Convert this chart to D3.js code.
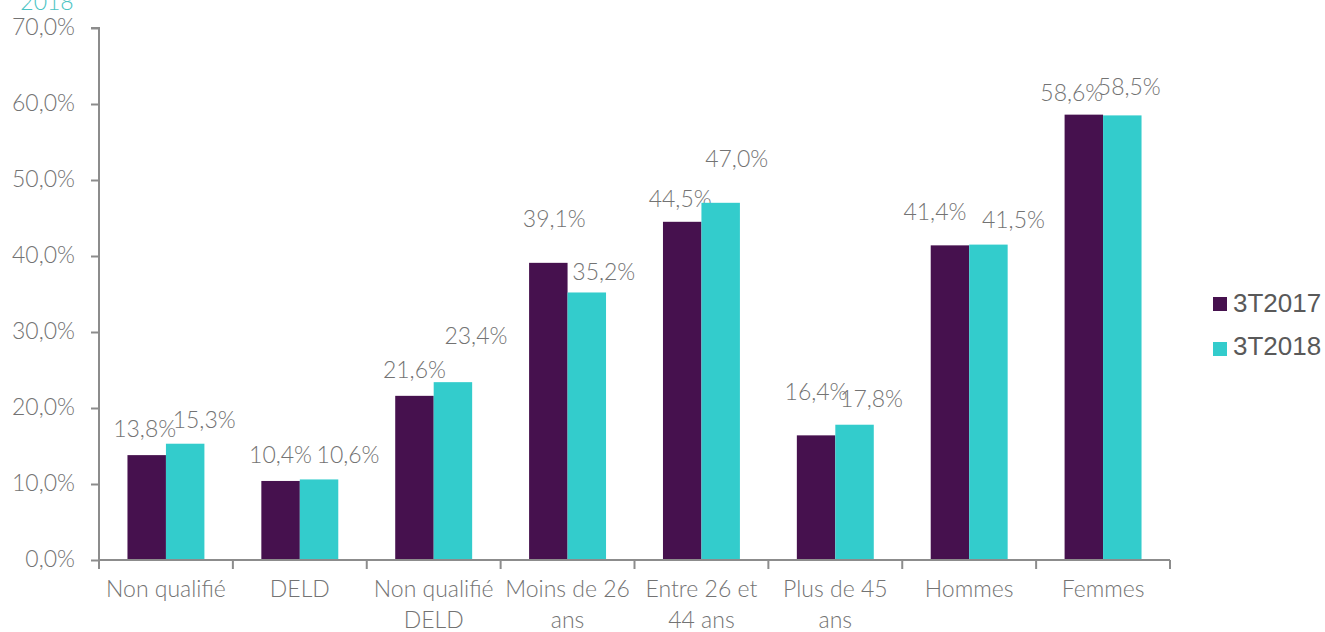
<!DOCTYPE html>
<html>
<head>
<meta charset="utf-8">
<script src="https://cdn.jsdelivr.net/npm/d3@7"></script>
<style>
  html, body { margin: 0; padding: 0; background: #fff; }
  svg { display: block; }
  .lbl { font-family: Lato, "Open Sans", sans-serif; font-weight: 300; fill: #737373; }
</style>
</head>
<body>
<svg id="chart" width="1325" height="632"></svg>
<script>
// ---- data ----
const categories = [
  ["Non qualifié"],
  ["DELD"],
  ["Non qualifié", "DELD"],
  ["Moins de 26", "ans"],
  ["Entre 26 et", "44 ans"],
  ["Plus de 45", "ans"],
  ["Hommes"],
  ["Femmes"]
];
const seriesNames = ["3T2017", "3T2018"];
const values2017 = [13.8, 10.4, 21.6, 39.1, 44.5, 16.4, 41.4, 58.6];
const values2018 = [15.3, 10.6, 23.4, 35.2, 47.0, 17.8, 41.5, 58.5];
const yTicks = [0, 10, 20, 30, 40, 50, 60, 70];
// manual label nudges (as placed in the original chart), px relative to bar top-centre
const labelDx2017 = [-2, 0, 0, 6, -2, 0, -15, -12];
const labelDy2017 = [-18, -18, -18, -36, -15, -35, -25, -14];
const labelDx2018 = [19, 29, 23, 17, 16, 17, 25, 7];
const labelDy2018 = [-16, -16, -38, -12, -36, -18, -17, -20];

const colors = ["#46114E", "#33CCCC"];
const fmt = v => d3.format(".1f")(v).replace(".", ",") + "%";

const svg = d3.select("#chart");
const pLeft = 99, pRight = 1170, pTop = 28, pBottom = 560;

const catKeys = categories.map((c, i) => i);
const x0 = d3.scaleBand().domain(catKeys).range([pLeft, pRight]).padding(0);
const x1 = d3.scaleBand().domain(seriesNames).range([0, x0.bandwidth()])
  .paddingInner(0).paddingOuter(0.74);
const y = d3.scaleLinear().domain([0, 70]).range([pBottom, pTop]);

// bars
const series = [values2017, values2018];
const dxs = [labelDx2017, labelDx2018];
const dys = [labelDy2017, labelDy2018];
seriesNames.forEach((s, si) => {
  const g = svg.append("g");
  g.selectAll("rect").data(series[si]).join("rect")
    .attr("x", (d, i) => x0(i) + x1(s))
    .attr("y", d => y(d))
    .attr("width", x1.bandwidth())
    .attr("height", d => y(0) - y(d))
    .attr("fill", colors[si]);
  g.selectAll("text").data(series[si]).join("text")
    .attr("class", "lbl")
    .attr("font-size", 23)
    .attr("text-anchor", "middle")
    .attr("x", (d, i) => x0(i) + x1(s) + x1.bandwidth() / 2 + dxs[si][i])
    .attr("y", (d, i) => y(d) + dys[si][i])
    .text(d => fmt(d));
});

// y axis
const yAxis = svg.append("g").attr("transform", `translate(${pLeft},0)`)
  .call(d3.axisLeft(y).tickValues(yTicks).tickSize(8).tickPadding(16).tickFormat(d => fmt(d)));
yAxis.select(".domain").attr("stroke", "#8c8c8c").attr("stroke-width", 2)
  .attr("d", `M-8,${pTop}H0V${pBottom}`);
yAxis.selectAll(".tick line").attr("stroke", "#8c8c8c").attr("stroke-width", 2);
yAxis.selectAll(".tick text").attr("class", "lbl").attr("font-size", 23).attr("dy", "0.30em");

// x axis
const xg = svg.append("g");
xg.append("line").attr("x1", pLeft).attr("x2", pRight).attr("y1", pBottom).attr("y2", pBottom)
  .attr("stroke", "#8c8c8c").attr("stroke-width", 2);
const bounds = catKeys.map(i => x0(i)).concat([pRight]);
xg.selectAll("line.t").data(bounds).join("line").attr("class", "t")
  .attr("x1", d => d).attr("x2", d => d).attr("y1", pBottom).attr("y2", pBottom + 9)
  .attr("stroke", "#8c8c8c").attr("stroke-width", 2);
const xl = xg.selectAll("text.c").data(categories).join("text")
  .attr("class", "lbl c").attr("font-size", 23).attr("text-anchor", "middle")
  .attr("x", (d, i) => x0(i) + x0.bandwidth() / 2)
  .attr("y", 597);
xl.selectAll("tspan").data(d => d).join("tspan")
  .attr("x", function () { return d3.select(this.parentNode).attr("x"); })
  .attr("dy", (d, j) => j === 0 ? 0 : 31)
  .text(d => d);

// cut-off title fragment
svg.append("text").attr("x", 47).attr("y", 10).attr("text-anchor", "middle")
  .attr("font-family", "Lato, sans-serif").attr("font-weight", 300)
  .attr("font-size", 23).attr("fill", "#4CC4C4").text("2018");

// legend
const lg = svg.append("g");
seriesNames.forEach((s, i) => {
  lg.append("rect").attr("x", 1213).attr("y", 297 + i * 45).attr("width", 14).attr("height", 14)
    .attr("fill", colors[i]);
  lg.append("text").attr("x", 1233).attr("y", 312 + i * 43)
    .attr("font-family", "'Liberation Sans', Arial, sans-serif").attr("font-size", 26)
    .attr("fill", "#595959").text(s);
});
</script>
</body>
</html>
